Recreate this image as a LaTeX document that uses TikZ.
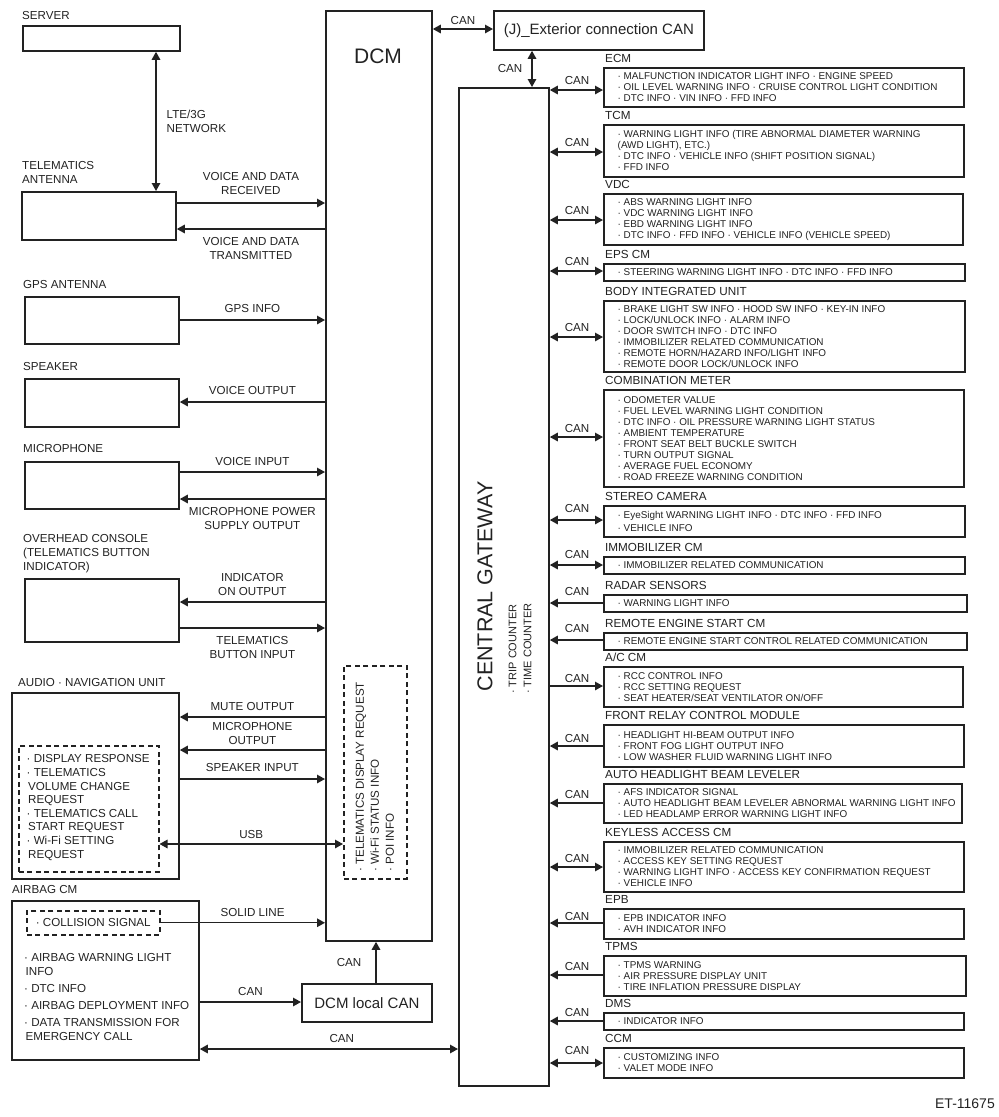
\documentclass[tikz,border=0pt]{standalone}
\usepackage{fontspec}
\setmainfont{Liberation Sans}
\usetikzlibrary{arrows.meta}
\definecolor{ink}{HTML}{222222}
% #1 name, #2 top, #3 bottom, #4 right, #5 title, #6 items, #7 arrows, #8 arrow y, #9 label y
\newcommand\RB[9]{%
  \node[blk, minimum width={(#4-603)*1pt}, minimum height={(#3-#2)*1pt}] (#1) at (603,#2) {};
  \node[ttl, anchor=south west] at ([xshift=2pt,yshift=4pt]#1.north west) {#5};
  \node[itm, anchor=west] at ([xshift=14.5pt]#1.west) {#6};
  \draw[wire,#7] (gw.east |- 0,#8) -- (#1.west |- 0,#8);
  \node[lbl] at (577,#9) {CAN};
}
\begin{document}
\begin{tikzpicture}[x=1pt,y=-1pt, >={Triangle[length=8pt,width=8.5pt]},
 blk/.style={draw=ink, line width=1.8pt, inner sep=0pt, anchor=north west},
 dbox/.style={draw=ink, line width=1.5pt, dash pattern=on 5pt off 3.5pt, inner sep=0pt, anchor=north west},
 lbl/.style={font=\fontsize{11.6}{14}\selectfont, text=ink, inner sep=0pt},
 ttl/.style={font=\fontsize{11.7}{14}\selectfont, text=ink, inner sep=0pt},
 itm/.style={font=\fontsize{9.9}{11}\selectfont, text=ink, inner sep=0pt, align=left},
 wire/.style={draw=ink, line width=1.4pt},
]
\useasboundingbox (0,0) rectangle (999,1117);

% ---------- left column ----------
\node[blk, minimum width=157pt, minimum height=25pt] (server) at (22,25) {};
\node[lbl, anchor=south west] at (22,20) {SERVER};
\node[blk, minimum width=154pt, minimum height=48pt] (antenna) at (21,191) {};
\node[lbl, anchor=south west, align=left] at (22,184) {TELEMATICS\\ANTENNA};
\node[blk, minimum width=154pt, minimum height=47pt] (gps) at (24,296) {};
\node[lbl, anchor=south west] at (23,289) {GPS ANTENNA};
\node[blk, minimum width=154pt, minimum height=48pt] (speaker) at (24,378) {};
\node[lbl, anchor=south west] at (23,371) {SPEAKER};
\node[blk, minimum width=154pt, minimum height=47pt] (mic) at (24,461) {};
\node[lbl, anchor=south west] at (23,453) {MICROPHONE};
\node[blk, minimum width=154pt, minimum height=63pt] (overhead) at (24,578) {};
\node[lbl, anchor=south west, align=left] at (23,573.5) {OVERHEAD CONSOLE\\(TELEMATICS BUTTON\\INDICATOR)};
\node[blk, minimum width=167pt, minimum height=186pt] (audio) at (11,692) {};
\node[lbl, anchor=south west] at (18,687) {AUDIO · NAVIGATION UNIT};
\node[dbox, minimum width=140pt, minimum height=126pt] (audiod) at (18,745) {};
\node[lbl, anchor=west, align=left, font=\fontsize{11.6}{13.6}\selectfont] at (26.5,807.5) {· DISPLAY RESPONSE\\· TELEMATICS\\\hspace{1.5pt}VOLUME CHANGE\\\hspace{1.5pt}REQUEST\\· TELEMATICS CALL\\\hspace{1.5pt}START REQUEST\\· Wi-Fi SETTING\\\hspace{1.5pt}REQUEST};
\node[blk, minimum width=187pt, minimum height=159pt] (airbag) at (11,900) {};
\node[lbl, anchor=south west] at (12,894) {AIRBAG CM};
\node[dbox, minimum width=133pt, minimum height=24pt] (collision) at (26,910) {};
\node[lbl] at (collision.center) {· COLLISION SIGNAL};
\node[lbl, anchor=west, align=left] at (24,996.5) {· AIRBAG WARNING LIGHT\\\hspace{1.5pt}INFO\\[3pt]· DTC INFO\\[3pt]· AIRBAG DEPLOYMENT INFO\\[3pt]· DATA TRANSMISSION FOR\\\hspace{1.5pt}EMERGENCY CALL};

% ---------- DCM ----------
\node[blk, minimum width=106pt, minimum height=930pt] (dcm) at (325,10) {};
\node[font=\fontsize{21}{25}\selectfont, text=ink, inner sep=0pt] at (378,56) {DCM};
\node[dbox, minimum width=63pt, minimum height=213pt] (dcmd) at (343,665) {};
\node[lbl, rotate=90, anchor=north west, align=left, font=\fontsize{11.6}{15}\selectfont] at (355.5,872) {· TELEMATICS DISPLAY REQUEST\\· Wi-Fi STATUS INFO\\· POI INFO};

\node[blk, minimum width=210pt, minimum height=39pt, font=\fontsize{15}{18}\selectfont, text=ink] (ext) at (493,10) {(J)\_Exterior connection CAN};
\node[blk, minimum width=130pt, minimum height=38pt, font=\fontsize{15}{18}\selectfont, text=ink] (local) at (301,983) {DCM local CAN};

% ---------- central gateway ----------
\node[blk, minimum width=90pt, minimum height=998pt] (gw) at (458,87) {};
\node[rotate=90, font=\fontsize{21.5}{25}\selectfont, text=ink, inner sep=0pt] at (485,586.5) {CENTRAL GATEWAY};
\node[lbl, rotate=90, anchor=north west, align=left, font=\fontsize{11}{15}\selectfont] at (508.5,694) {· TRIP COUNTER\\· TIME COUNTER};

% ---------- left connectors ----------
\draw[wire,<->] (server.south -| 156,0) -- node[lbl, right=10pt, align=left]{LTE/3G\\NETWORK} (antenna.north -| 156,0);
\draw[wire,->] (antenna.east |- 0,203) -- node[lbl, above=8pt, align=center]{VOICE AND DATA\\RECEIVED} (dcm.west |- 0,203);
\draw[wire,<-] (antenna.east |- 0,229) -- node[lbl, below=8pt, align=center]{VOICE AND DATA\\TRANSMITTED} (dcm.west |- 0,229);
\draw[wire,->] (gps.east |- 0,320) -- node[lbl, above=6.5pt]{GPS INFO} (dcm.west |- 0,320);
\draw[wire,<-] (speaker.east |- 0,402) -- node[lbl, above=6.5pt]{VOICE OUTPUT} (dcm.west |- 0,402);
\draw[wire,->] (mic.east |- 0,472) -- node[lbl, above=5.5pt]{VOICE INPUT} (dcm.west |- 0,472);
\draw[wire,<-] (mic.east |- 0,499) -- node[lbl, below=8pt, align=center]{MICROPHONE POWER\\SUPPLY OUTPUT} (dcm.west |- 0,499);
\draw[wire,<-] (overhead.east |- 0,602) -- node[lbl, above=5.5pt, align=center]{INDICATOR\\ON OUTPUT} (dcm.west |- 0,602);
\draw[wire,->] (overhead.east |- 0,628) -- node[lbl, below=8pt, align=center]{TELEMATICS\\BUTTON INPUT} (dcm.west |- 0,628);
\draw[wire,<-] (audio.east |- 0,717) -- node[lbl, above=5.5pt]{MUTE OUTPUT} (dcm.west |- 0,717);
\draw[wire,<-] (audio.east |- 0,750) -- node[lbl, above=4.5pt, align=center]{MICROPHONE\\OUTPUT} (dcm.west |- 0,750);
\draw[wire,->] (audio.east |- 0,779) -- node[lbl, above=6.5pt]{SPEAKER INPUT} (dcm.west |- 0,779);
\draw[wire,<->] (audiod.east |- 0,844) -- node[lbl, above=4.5pt]{USB} (dcmd.west |- 0,844);
\draw[wire,->] (collision.east) -- node[lbl, above=5.5pt, pos=0.56]{SOLID LINE} (dcm.west |- collision.east);
\draw[wire,->] (airbag.east |- 0,1002) -- node[lbl, above=5.5pt]{CAN} (local.west |- 0,1002);
\draw[wire,->] (local.north -| 376,0) -- node[lbl, left=14pt]{CAN} (dcm.south -| 376,0);
\draw[wire,<->] (airbag.east |- 0,1049) -- node[lbl, above=5.5pt, pos=0.55]{CAN} (gw.west |- 0,1049);
\draw[wire,<->] (dcm.east |- 0,29) -- node[lbl, above=4pt]{CAN} (ext.west |- 0,29);
\draw[wire,<->] (ext.south -| 532,0) -- node[lbl, left=9pt]{CAN} (gw.north -| 532,0);

% ---------- right column ----------
\RB{ecm}{67}{106}{963}{ECM}{· MALFUNCTION INDICATOR LIGHT INFO · ENGINE SPEED\\· OIL LEVEL WARNING INFO · CRUISE CONTROL LIGHT CONDITION\\· DTC INFO · VIN INFO · FFD INFO}{<->}{90}{81}
\RB{tcm}{124}{176}{963}{TCM}{· WARNING LIGHT INFO (TIRE ABNORMAL DIAMETER WARNING\\(AWD LIGHT), ETC.)\\· DTC INFO · VEHICLE INFO (SHIFT POSITION SIGNAL)\\· FFD INFO}{<->}{152}{143}
\RB{vdc}{193}{244}{962}{VDC}{· ABS WARNING LIGHT INFO\\· VDC WARNING LIGHT INFO\\· EBD WARNING LIGHT INFO\\· DTC INFO · FFD INFO · VEHICLE INFO (VEHICLE SPEED)}{<->}{220}{211}
\RB{eps}{263}{280}{964}{EPS CM}{· STEERING WARNING LIGHT INFO · DTC INFO · FFD INFO}{<->}{271}{262}
\RB{biu}{300}{371}{964}{BODY INTEGRATED UNIT}{· BRAKE LIGHT SW INFO · HOOD SW INFO · KEY-IN INFO\\· LOCK/UNLOCK INFO · ALARM INFO\\· DOOR SWITCH INFO · DTC INFO\\· IMMOBILIZER RELATED COMMUNICATION\\· REMOTE HORN/HAZARD INFO/LIGHT INFO\\· REMOTE DOOR LOCK/UNLOCK INFO}{<->}{337}{328}
\RB{comb}{389}{486}{963}{COMBINATION METER}{· ODOMETER VALUE\\· FUEL LEVEL WARNING LIGHT CONDITION\\· DTC INFO · OIL PRESSURE WARNING LIGHT STATUS\\· AMBIENT TEMPERATURE\\· FRONT SEAT BELT BUCKLE SWITCH\\· TURN OUTPUT SIGNAL\\· AVERAGE FUEL ECONOMY\\· ROAD FREEZE WARNING CONDITION}{<->}{437}{428}
\RB{stereo}{505}{536}{964}{STEREO CAMERA}{· EyeSight WARNING LIGHT INFO · DTC INFO · FFD INFO\\[2pt]· VEHICLE INFO}{<->}{520}{508}
\RB{immo}{556}{573}{964}{IMMOBILIZER CM}{· IMMOBILIZER RELATED COMMUNICATION}{<->}{565}{554}
\RB{radar}{594}{611}{966}{RADAR SENSORS}{· WARNING LIGHT INFO}{<-}{603}{591}
\RB{remote}{632}{649}{966}{REMOTE ENGINE START CM}{· REMOTE ENGINE START CONTROL RELATED COMMUNICATION}{<-}{640}{628}
\RB{ac}{666}{706}{962}{A/C CM}{· RCC CONTROL INFO\\· RCC SETTING REQUEST\\· SEAT HEATER/SEAT VENTILATOR ON/OFF}{->}{686}{678}
\RB{frelay}{724}{766}{963}{FRONT RELAY CONTROL MODULE}{· HEADLIGHT HI-BEAM OUTPUT INFO\\· FRONT FOG LIGHT OUTPUT INFO\\· LOW WASHER FLUID WARNING LIGHT INFO}{<-}{746}{738}
\RB{ahbl}{783}{822}{961}{AUTO HEADLIGHT BEAM LEVELER}{· AFS INDICATOR SIGNAL\\· AUTO HEADLIGHT BEAM LEVELER ABNORMAL WARNING LIGHT INFO\\· LED HEADLAMP ERROR WARNING LIGHT INFO}{<-}{803}{794}
\RB{keyless}{841}{891}{963}{KEYLESS ACCESS CM}{· IMMOBILIZER RELATED COMMUNICATION\\· ACCESS KEY SETTING REQUEST\\· WARNING LIGHT INFO · ACCESS KEY CONFIRMATION REQUEST\\· VEHICLE INFO}{<->}{867}{858}
\RB{epb}{908}{938}{963}{EPB}{· EPB INDICATOR INFO\\· AVH INDICATOR INFO}{<-}{923}{916}
\RB{tpms}{955}{995}{965}{TPMS}{· TPMS WARNING\\· AIR PRESSURE DISPLAY UNIT\\· TIRE INFLATION PRESSURE DISPLAY}{<-}{975}{966}
\RB{dms}{1012}{1029}{963}{DMS}{· INDICATOR INFO}{<-}{1021}{1012}
\RB{ccm}{1047}{1077}{963}{CCM}{· CUSTOMIZING INFO\\· VALET MODE INFO}{<->}{1063}{1050}

\node[font=\fontsize{14}{16}\selectfont, text=ink, inner sep=0pt, anchor=base east] at (995,1108) {ET-11675};
\end{tikzpicture}
\end{document}
